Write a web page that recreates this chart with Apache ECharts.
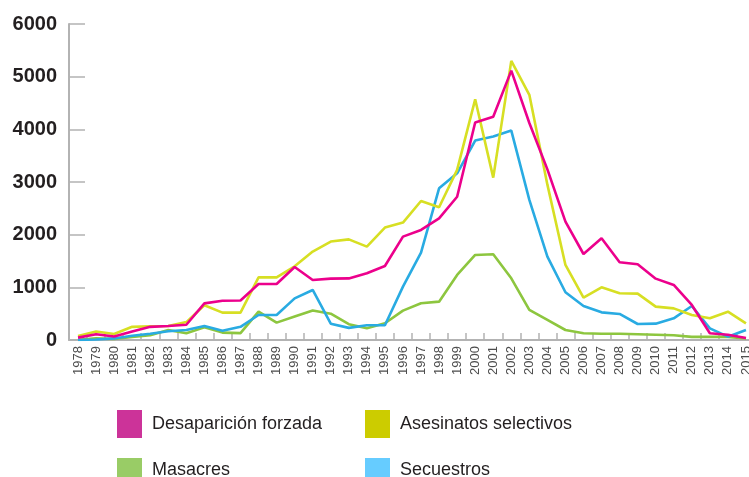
<!DOCTYPE html>
<html>
<head>
<meta charset="utf-8">
<script src="https://cdn.jsdelivr.net/npm/echarts@6/dist/echarts.min.js"></script>
<style>
  html, body { margin: 0; padding: 0; background: #ffffff; }
  #chart { width: 749px; height: 477px; }
</style>
</head>
<body>
<div id="chart"></div>
<script>
// Victims per year, by type of violence
const years = ['1978','1979','1980','1981','1982','1983','1984','1985','1986','1987',
  '1988','1989','1990','1991','1992','1993','1994','1995','1996','1997',
  '1998','1999','2000','2001','2002','2003','2004','2005','2006','2007',
  '2008','2009','2010','2011','2012','2013','2014','2015'];

const desaparicion = [45, 110, 65, 160, 250, 265, 290, 695, 745, 750,
  1064, 1064, 1385, 1140, 1165, 1170, 1267, 1405, 1963, 2090,
  2310, 2720, 4130, 4240, 5115, 4120, 3240, 2247, 1633, 1931,
  1475, 1437, 1165, 1045, 665, 127, 100, 38];

const asesinatos = [75, 160, 115, 250, 260, 265, 340, 660, 520, 520,
  1190, 1190, 1400, 1680, 1870, 1910, 1773, 2134, 2230, 2640,
  2520, 3230, 4570, 3083, 5300, 4655, 2950, 1425, 803, 1000,
  887, 880, 633, 600, 475, 412, 538, 317];

const masacres = [5, 30, 20, 60, 90, 190, 127, 240, 140, 130,
  540, 330, 445, 560, 500, 300, 222, 317, 557, 697,
  728, 1235, 1615, 1627, 1172, 570, 380, 190, 127, 120,
  120, 110, 100, 90, 60, 60, 60, 30];

const secuestros = [0, 10, 30, 80, 120, 165, 190, 265, 175, 250,
  475, 475, 790, 950, 310, 230, 280, 280, 1013, 1660,
  2880, 3166, 3787, 3862, 3976, 2660, 1583, 906, 646, 525,
  494, 304, 310, 412, 646, 222, 63, 190];

const yTicks = { min: 0, max: 6000, interval: 1000 };

const textFont = "'Liberation Sans', Arial, sans-serif";

function lineSeries(name, data, lineColor, keyColor) {
  return {
    name: name,
    type: 'line',
    data: data,
    showSymbol: false,
    symbol: 'none',
    smooth: false,
    itemStyle: { color: keyColor },
    lineStyle: { color: lineColor, width: 2.6 },
    emphasis: { disabled: true },
    z: 2
  };
}

// one legend entry per box so the 2x2 key keeps its fixed positions
function legendEntry(name, left, top, boxHeight) {
  return {
    left: left, top: top, orient: 'horizontal',
    itemWidth: 25, itemHeight: boxHeight, itemGap: 0, padding: 0,
    icon: 'rect',
    textStyle: { fontFamily: textFont, fontSize: 18, color: '#231f20', padding: [0, 0, 0, 5] },
    data: [name]
  };
}

const chart = echarts.init(document.getElementById('chart'), null, { renderer: 'canvas' });

chart.setOption({
  animation: false,
  backgroundColor: '#ffffff',
  grid: { left: 69, right: -6, top: 24, bottom: 137, containLabel: false, outerBoundsMode: 'none' },
  legend: [
    legendEntry('Desaparición forzada', 117, 410, 28),
    legendEntry('Asesinatos selectivos', 365, 410, 28),
    legendEntry('Masacres', 117, 458, 25),
    legendEntry('Secuestros', 365, 458, 25)
  ],
  xAxis: {
    type: 'category',
    data: years,
    boundaryGap: true,
    axisLine: { show: true, lineStyle: { color: '#b3b3b3', width: 2 } },
    axisTick: { show: true, inside: true, length: 7, alignWithLabel: false, interval: 0,
      lineStyle: { color: '#b3b3b3', width: 1.5 } },
    axisLabel: { interval: 0, rotate: 90, margin: 6, fontSize: 13,
      fontFamily: textFont, color: '#4d4d4d' },
    splitLine: { show: false }
  },
  yAxis: {
    type: 'value',
    min: yTicks.min, max: yTicks.max, interval: yTicks.interval,
    axisLine: { show: true, lineStyle: { color: '#b3b3b3', width: 2 } },
    axisTick: { show: true, inside: true, length: 16, lineStyle: { color: '#b3b3b3', width: 1.5 } },
    axisLabel: { margin: 12, fontSize: 20, fontWeight: 'bold', fontFamily: textFont, color: '#231f20',
      formatter: function (v) { return String(v); } },
    splitLine: { show: false }
  },
  series: [
    lineSeries('Masacres', masacres, '#8dc63f', '#99cc66'),
    lineSeries('Secuestros', secuestros, '#29abe2', '#66ccff'),
    lineSeries('Asesinatos selectivos', asesinatos, '#d7df23', '#cccc00'),
    lineSeries('Desaparición forzada', desaparicion, '#ec008c', '#cc3399')
  ]
});
</script>
</body>
</html>
